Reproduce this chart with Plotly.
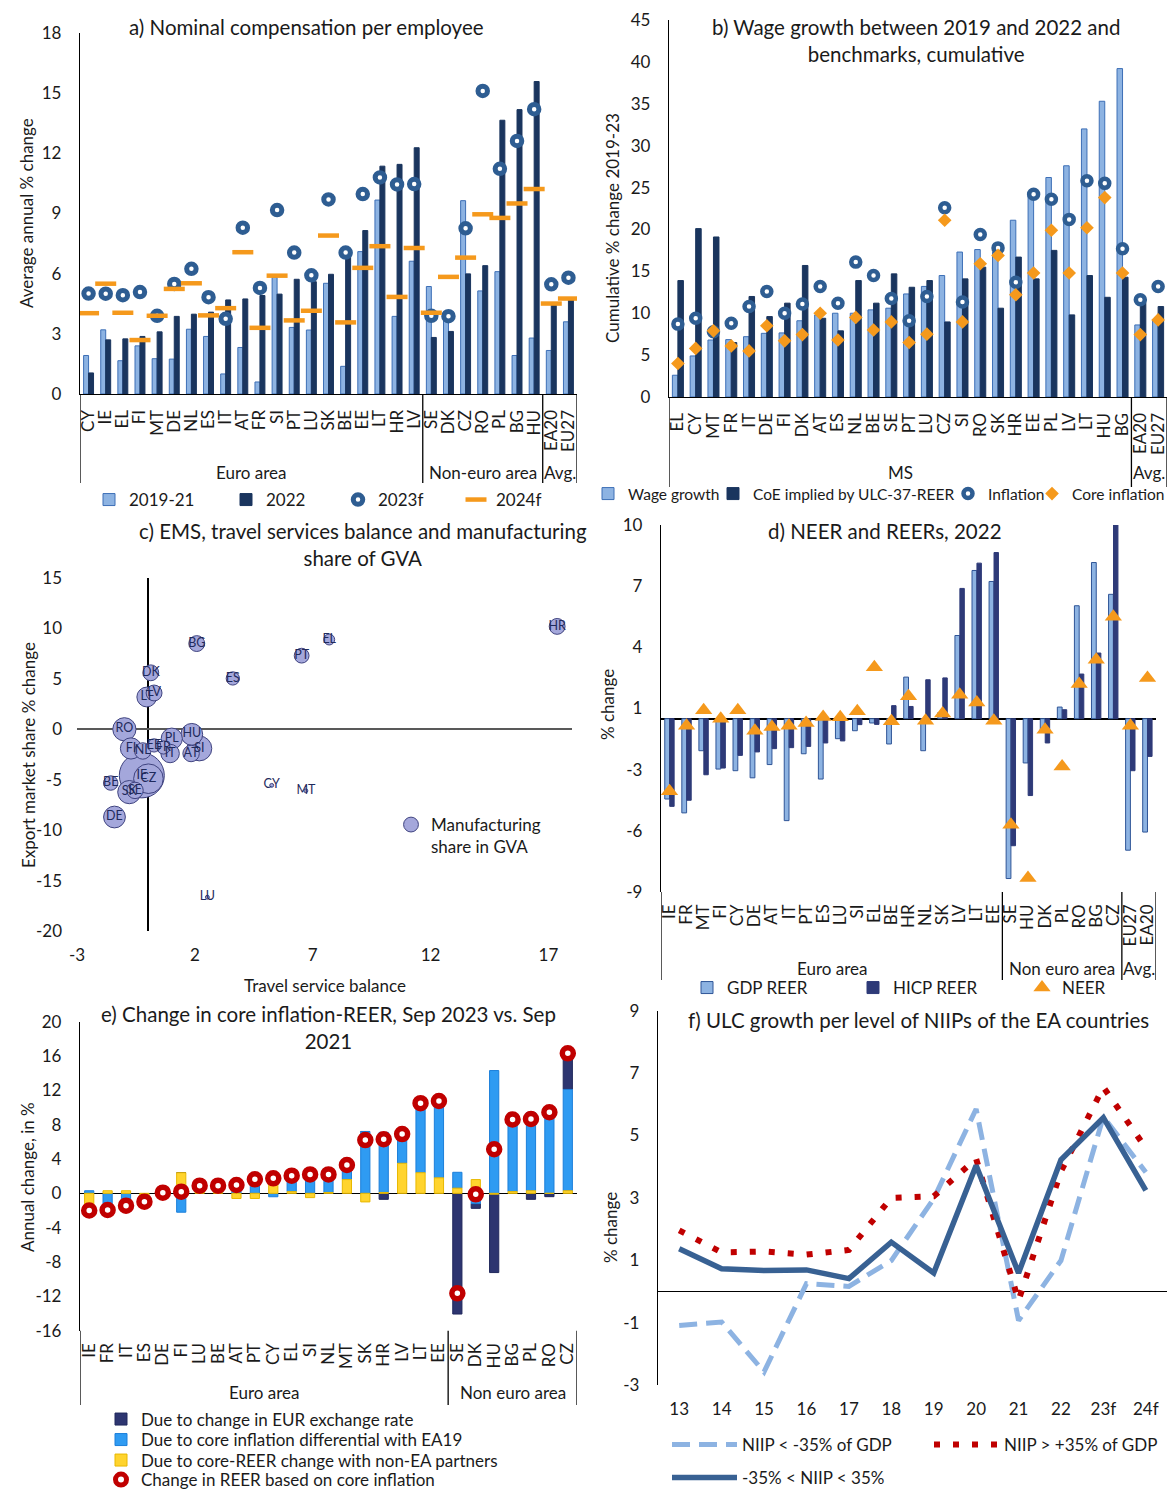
import plotly.graph_objects as go

W, H = 1173, 1490
FONT = "Lato"
INK = "#1a1a1a"

# ---------------- panel a data ----------------
a_cats = ["CY", "IE", "EL", "FI", "MT", "DE", "NL", "ES", "IT", "AT", "FR", "SI", "PT", "LU", "SK",
          "BE", "EE", "LT", "HR", "LV", "SE", "DK", "CZ", "RO", "PL", "BG", "HU", "EA20", "EU27"]
a_groups = ["Euro area", "Non-euro area", "Avg."]
a_group_sizes = [20, 7, 2]
a_2019_21 = [1.92, 3.2, 1.66, 2.4, 1.76, 1.74, 3.23, 2.87, 1.0, 2.32, 0.6, 5.82, 3.32, 3.19, 5.52,
             1.38, 7.1, 9.67, 3.87, 6.62, 5.36, 3.7, 9.64, 5.14, 6.1, 1.92, 2.79, 2.17, 3.6]
a_2022 = [1.05, 2.7, 2.75, 2.87, 3.1, 3.87, 3.98, 4.08, 4.69, 4.74, 4.91, 4.98, 5.72, 5.6, 5.97,
          6.85, 8.15, 11.36, 11.45, 12.28, 2.82, 3.12, 5.99, 6.4, 13.65, 14.18, 15.58, 4.45, 4.7]
a_2023f = [5.01, 5.0, 4.93, 5.08, 3.9, 5.49, 6.24, 4.83, 3.75, 8.29, 5.29, 9.17, 7.05, 5.92, 9.7,
           7.05, 9.97, 10.8, 10.45, 10.47, 3.9, 3.88, 8.26, 15.11, 11.23, 12.62, 14.2, 5.47, 5.8]
a_2024f = [4.03, 5.5, 4.05, 2.69, 3.9, 5.24, 5.52, 3.92, 4.28, 7.07, 3.3, 5.9, 3.67, 4.15, 7.9,
           3.57, 6.29, 7.37, 4.84, 7.28, 4.05, 5.84, 6.8, 8.96, 8.78, 9.5, 10.22, 4.51, 4.76]

# ---------------- panel b data ----------------
b_cats = ["EL", "CY", "MT", "FR", "IT", "DE", "FI", "DK", "AT", "ES", "NL", "BE", "SE", "PT",
          "LU", "CZ", "SI", "RO", "SK", "HR", "EE", "PL", "LV", "LT", "HU", "BG", "EA20", "EU27"]
b_groups = ["MS", "Avg."]
b_group_sizes = [26, 2]
b_wage = [2.6, 4.9, 6.8, 6.85, 7.2, 7.6, 7.65, 9.1, 9.8, 10.0, 10.0, 10.4, 10.6, 12.3,
          13.2, 14.5, 17.3, 17.6, 17.3, 21.1, 24.1, 26.2, 27.6, 32.0, 35.3, 39.2, 8.6, 9.2]
b_coe = [13.9, 20.1, 19.1, 6.5, 12.0, 9.6, 11.2, 15.7, 9.4, 7.9, 13.9, 11.2, 14.7, 13.1,
         13.9, 8.96, 14.1, 15.5, 10.6, 16.7, 14.1, 17.5, 9.8, 14.5, 11.9, 14.3, 11.3, 10.8]
b_infl = [8.7, 9.4, 7.8, 8.8, 10.8, 12.6, 10.0, 11.1, 13.2, 11.2, 16.1, 14.5, 11.75, 9.1,
          12.0, 22.6, 11.35, 19.4, 17.8, 13.7, 24.2, 23.6, 21.2, 25.8, 25.5, 17.7, 11.6, 13.2]
b_core = [4.0, 5.8, 7.9, 6.1, 5.5, 8.5, 6.7, 7.45, 10.0, 6.8, 9.5, 8.0, 8.96, 6.5,
          7.5, 21.1, 8.96, 15.9, 16.9, 12.2, 14.8, 19.9, 14.8, 20.2, 23.8, 14.8, 7.45, 9.2]

# ---------------- panel c data ----------------
c_countries = ["IE", "CZ", "SI", "RO", "SK", "HU", "DE", "FI", "PL", "LT", "IT", "AT", "NL", "SE",
               "BG", "DK", "LV", "HR", "PT", "BE", "FR", "EE", "ES", "EL", "CY", "MT", "LU"]
c_travel = [-0.25, 0.03, 2.19, -0.99, -0.78, 1.87, -1.41, -0.71, 1.02, -0.04, 0.95, 1.84, -0.21, -0.54,
            2.08, 0.13, 0.27, 17.37, 6.53, -1.57, 0.67, 0.27, 3.61, 7.70, 5.26, 6.71, 2.53]
c_ems = [-4.57, -4.9, -1.9, 0.0, -6.23, -0.5, -8.7, -1.9, -0.93, 3.2, -2.4, -2.4, -2.15, -6.06,
         8.5, 5.6, 3.6, 10.2, 7.3, -5.33, -1.8, -1.6, 5.04, 8.9, -5.56, -6.1, -16.65]
c_manuf = [38, 25, 21, 19.6, 19.6, 18.4, 18.4, 17.9, 17.9, 16.7, 15.6, 13.9, 13.9, 13.9,
           13.4, 13.4, 13.4, 13.4, 12.5, 12.2, 11.2, 11.2, 11.2, 9.2, 3.3, 3.3, 3.3]
c_xticks = [-3, 2, 7, 12, 17]
c_yticks = [-20, -15, -10, -5, 0, 5, 10, 15]

# ---------------- panel d data ----------------
d_cats = ["IE", "FR", "MT", "FI", "CY", "DE", "AT", "IT", "PT", "ES", "LU", "SI", "EL", "BE", "HR",
          "NL", "SK", "LV", "LT", "EE", "SE", "HU", "DK", "PL", "RO", "BG", "CZ", "EU27", "EA20"]
d_groups = ["Euro area", "Non euro area", "Avg."]
d_group_sizes = [20, 7, 2]
d_gdp = [-3.94, -4.62, -1.57, -2.47, -2.55, -2.9, -2.25, -5.0, -1.72, -2.96, -0.98, -0.59, -0.21, -1.24, 2.04,
         -1.57, 0.3, 4.08, 7.27, 6.73, -7.84, -2.17, -0.62, 0.57, 5.54, 7.66, 6.1, -6.45, -5.56]
d_hicp = [-4.3, -4.0, -2.75, -2.42, -1.8, -1.63, -1.47, -1.42, -1.36, -1.19, -1.09, -0.29, -0.28, 0.64, 0.6,
          1.91, 2.0, 6.39, 7.63, 8.15, -6.23, -3.77, -1.19, 0.44, 2.19, 3.22, 9.62, -2.55, -1.85]
d_neer = [-3.56, -0.34, 0.42, 0.0, 0.42, -0.59, -0.41, -0.35, -0.21, 0.08, 0.07, 0.36, 2.52, -0.13, 1.1,
          -0.1, 0.25, 1.18, 0.8, -0.1, -5.2, -7.81, -0.54, -2.34, 1.7, 2.89, 5.0, -0.34, 2.0]
d_tickvals = [-8.5, -5.5, -2.5, 0.5, 3.5, 6.5, 9.5]
d_ticktext = ["-9", "-6", "-3", "1", "4", "7", "10"]

# ---------------- panel e data ----------------
e_cats = ["IE", "FR", "IT", "ES", "DE", "FI", "LU", "BE", "AT", "PT", "CY", "EL", "SI", "NL", "MT",
          "SK", "HR", "LV", "LT", "EE", "SE", "DK", "HU", "BG", "PL", "RO", "CZ"]
e_groups = ["Euro area", "Non euro area"]
e_group_sizes = [20, 7]
e_eur = [-0.4, -0.2, -0.8, -0.2, 0, 0, 0, 0, 0, 0, 0, 0, 0, 0, 0,
         0, -0.7, 0, 0, 0, -14.06, -0.55, -9.13, 0, -0.7, -0.39, 4.2]
e_core = [0.3, -1.9, -0.9, -0.5, -0.1, -2.2, 0.7, 0.8, 1.6, 2.2, -0.4, 1.9, 2.7, 2.1, 1.7,
          7.2, 7.0, 3.4, 8.1, 9.0, 1.85, -1.2, 14.3, 8.4, 9.1, 9.8, 11.8]
e_nonea = [-1.8, 0.3, 0.3, -0.3, 0.2, 2.4, 0.2, 0.1, -0.6, -0.6, 2.1, 0.2, -0.5, 0.1, 1.6,
           -1.0, 0.1, 3.5, 2.4, 1.8, 0.6, 1.6, -0.1, 0.2, 0.3, 0.0, 0.3]
e_total = [-2.0, -1.94, -1.44, -0.97, 0.08, 0.19, 0.89, 0.89, 0.97, 1.63, 1.75, 2.06, 2.2, 2.2, 3.3,
           6.2, 6.3, 6.9, 10.5, 10.75, -11.65, -0.12, 5.13, 8.6, 8.66, 9.44, 16.3]
e_yticks = [-16, -12, -8, -4, 0, 4, 8, 12, 16, 20]

# ---------------- panel f data ----------------
f_years = ["13", "14", "15", "16", "17", "18", "19", "20", "21", "22", "23f", "24f"]
f_low = [-1.09, -0.98, -2.58, 0.25, 0.16, 0.99, 2.97, 5.85, -0.93, 0.99, 5.6, 3.82]
f_high = [1.96, 1.25, 1.28, 1.18, 1.33, 3.0, 3.05, 4.25, -0.29, 3.85, 6.55, 4.6]
f_mid = [1.37, 0.73, 0.67, 0.69, 0.41, 1.58, 0.59, 4.04, 0.59, 4.22, 5.57, 3.24]
f_yticks = [-3, -1, 1, 3, 5, 7, 9]


def fx(x):
    return x / W


def fy(y):
    return 1 - y / H


def lab(v):
    return str(v)


LIGHT = "#8DB3E2"
LIGHT_EDGE = "#3D6FB6"
NAVY = "#1A355E"
RING = "#2E5D92"
ORANGE = "#F5991C"
INDIGO = "#2E3A78"
E_DARK = "#2D3570"
E_BLUE = "#2F9BF2"
E_YEL = "#FFD42E"
RED = "#C00000"
BUB = "#A4A7DB"

fig = go.Figure()

# ---------------- panel a ----------------
fig.add_bar(x=a_cats, y=a_2019_21, width=0.29, offset=-0.29, name="2019-21",
            marker=dict(color=LIGHT, line=dict(color=LIGHT_EDGE, width=1)),
            xaxis="x", yaxis="y", legend="legend")
fig.add_bar(x=a_cats, y=a_2022, width=0.29, offset=0.0, name="2022",
            marker=dict(color=NAVY, line=dict(color=NAVY, width=1)),
            xaxis="x", yaxis="y", legend="legend2")
fig.add_scatter(x=a_cats, y=a_2023f, mode="markers", name="2023f",
                marker=dict(symbol="circle", size=9.5, color="white", line=dict(color=RING, width=5)),
                xaxis="x", yaxis="y", legend="legend3")
fig.add_scatter(x=a_cats, y=a_2024f, mode="markers", name="2024f",
                marker=dict(symbol="line-ew", size=15, line=dict(color=ORANGE, width=4.5)),
                xaxis="x", yaxis="y", legend="legend4")

# ---------------- panel b ----------------
fig.add_bar(x=b_cats, y=b_wage, width=0.31, offset=-0.31, name="Wage growth",
            marker=dict(color=LIGHT, line=dict(color=LIGHT_EDGE, width=1)),
            xaxis="x2", yaxis="y2", legend="legend5")
fig.add_bar(x=b_cats, y=b_coe, width=0.31, offset=0.0, name="CoE implied by ULC-37-REER",
            marker=dict(color=NAVY, line=dict(color=NAVY, width=1)),
            xaxis="x2", yaxis="y2", legend="legend6")
fig.add_scatter(x=b_cats, y=b_infl, mode="markers", name="Inflation",
                marker=dict(symbol="circle", size=9, color="white", line=dict(color=RING, width=4.5)),
                xaxis="x2", yaxis="y2", legend="legend7")
fig.add_scatter(x=b_cats, y=b_core, mode="markers", name="Core inflation",
                marker=dict(symbol="diamond", size=10.5, color=ORANGE, line=dict(width=0)),
                xaxis="x2", yaxis="y2", legend="legend8")

# ---------------- panel c ----------------
order = sorted(range(len(c_countries)), key=lambda i: -c_manuf[i])
max_diam = 45.0
fig.add_scatter(x=[c_travel[i] for i in order], y=[c_ems[i] for i in order],
                text=[c_countries[i] for i in order], mode="markers+text",
                textposition="middle center", textfont=dict(family=FONT, size=12.5, color="#1F2A5C"),
                name="Manufacturing<br>share in GVA",
                marker=dict(size=[c_manuf[i] for i in order], sizemode="diameter",
                            sizeref=max(c_manuf) / max_diam, color=BUB, opacity=1,
                            line=dict(color="#3F437F", width=1)),
                xaxis="x3", yaxis="y3", legend="legend9")

# ---------------- panel d ----------------
fig.add_bar(x=d_cats, y=d_gdp, width=0.28, offset=-0.28, name="GDP REER",
            marker=dict(color=LIGHT, line=dict(color="#2F5597", width=1)),
            xaxis="x4", yaxis="y4", legend="legend10")
fig.add_bar(x=d_cats, y=d_hicp, width=0.26, offset=0.01, name="HICP REER",
            marker=dict(color=INDIGO, line=dict(color=INDIGO, width=1)),
            xaxis="x4", yaxis="y4", legend="legend11")
fig.add_scatter(x=d_cats, y=d_neer, mode="markers", name="NEER",
                marker=dict(symbol="triangle-up", size=15, color=ORANGE, line=dict(width=0)),
                xaxis="x4", yaxis="y4", legend="legend12")

# ---------------- panel e (stacked: non-EA, core diff, EUR) ----------------
pos_acc = [0.0] * len(e_cats)
neg_acc = [0.0] * len(e_cats)
bases = {}
for key, vals in (("nonea", e_nonea), ("core", e_core), ("eur", e_eur)):
    b = []
    for i, v in enumerate(vals):
        if v >= 0:
            b.append(pos_acc[i])
            pos_acc[i] += v
        else:
            b.append(neg_acc[i])
            neg_acc[i] += v
    bases[key] = b

e_series = [
    ("Due to change in EUR exchange rate", e_eur, bases["eur"], E_DARK, "#20285C", "legend13"),
    ("Due to core inflation differential with EA19", e_core, bases["core"], E_BLUE, "#1C7FDA", "legend14"),
    ("Due to core-REER change with non-EA partners", e_nonea, bases["nonea"], E_YEL, "#E8B800", "legend15"),
]
for name, vals, base, col, edge, lg in e_series:
    fig.add_bar(x=e_cats, y=vals, base=base, width=0.5, offset=-0.25, name=name,
                marker=dict(color=col, line=dict(color=edge, width=1)),
                xaxis="x5", yaxis="y5", legend=lg)
fig.add_scatter(x=e_cats, y=e_total, mode="markers", name="Change in REER based on core inflation",
                marker=dict(symbol="circle", size=11, color="white", line=dict(color=RED, width=5.5)),
                xaxis="x5", yaxis="y5", legend="legend16")

# ---------------- panel f ----------------
fig.add_scatter(x=f_years, y=f_low, mode="lines", name="NIIP < -35% of GDP",
                line=dict(color="#8DB3E2", width=5, dash="18px,9px"),
                xaxis="x6", yaxis="y6", legend="legend17")
fig.add_scatter(x=f_years, y=f_high, mode="lines", name="NIIP > +35% of GDP",
                line=dict(color=RED, width=6, dash="6px,13px"),
                xaxis="x6", yaxis="y6", legend="legend18")
fig.add_scatter(x=f_years, y=f_mid, mode="lines", name="-35% < NIIP < 35%",
                line=dict(color="#386193", width=5.5),
                xaxis="x6", yaxis="y6", legend="legend19")

# ---------------- axes ----------------
FS = 17
tf = dict(family=FONT, size=FS, color=INK)
tf_small = dict(family=FONT, size=15.5, color=INK)


def cat_x(dom, anchor, cats):
    return dict(domain=[fx(dom[0]), fx(dom[1])], anchor=anchor, type="category",
                range=[-0.5, len(cats) - 0.5], tickangle=-90, tickfont=tf, ticks="",
                tickmode="array", tickvals=cats, ticktext=cats,
                showgrid=False, zeroline=False, ticklabelstandoff=8, fixedrange=True)


def val_y(dom, anchor, rng, ticks_, **kw):
    d = dict(domain=[fy(dom[1]), fy(dom[0])], anchor=anchor, range=rng, tickfont=tf,
             tickmode="array", tickvals=ticks_, ticktext=[lab(v) for v in ticks_],
             ticks="", showgrid=False, showline=True, linecolor="black", linewidth=1.3,
             ticklabelstandoff=14, fixedrange=True)
    d.update(kw)
    return d


a_yticks = [0, 3, 6, 9, 12, 15, 18]
b_yticks = [0, 5, 10, 15, 20, 25, 30, 35, 40, 45]

layout_axes = dict(
    xaxis=dict(cat_x((80, 577), "y", a_cats), showline=True, linecolor="black", linewidth=1.3),
    yaxis=val_y((33, 394), "x", [0, 18], a_yticks, zeroline=False),
    xaxis2=dict(cat_x((669, 1167), "y2", b_cats), showline=True, linecolor="black", linewidth=1.3),
    yaxis2=val_y((20, 397), "x2", [0, 45], b_yticks, zeroline=False),
    xaxis3=dict(domain=[fx(77), fx(572)], anchor="y3", range=[-3, 18],
                tickmode="array", tickvals=c_xticks, ticktext=[lab(v) for v in c_xticks],
                tickfont=tf, ticks="", showgrid=False, showline=False, zeroline=True,
                zerolinecolor="black", zerolinewidth=1.5, ticklabelstandoff=12, fixedrange=True),
    yaxis3=dict(domain=[fy(931), fy(578)], anchor="x3", range=[-20, 15],
                tickmode="array", tickvals=c_yticks, ticktext=[lab(v) for v in c_yticks],
                tickfont=tf, ticks="", showgrid=False, showline=False, zeroline=True,
                zerolinecolor="#595959", zerolinewidth=2, ticklabelstandoff=14, fixedrange=True),
    xaxis4=cat_x((661, 1156), "y4", d_cats),
    yaxis4=dict(val_y((525, 892), "x4", [-8.5, 9.5], d_tickvals),
                ticktext=d_ticktext, zeroline=True, zerolinecolor="black", zerolinewidth=1.5),
    xaxis5=cat_x((80, 577), "y5", e_cats),
    yaxis5=val_y((1021.6, 1330.7), "x5", [-16, 20], e_yticks,
                 zeroline=True, zerolinecolor="black", zerolinewidth=1.3),
    xaxis6=dict(domain=[fx(658), fx(1167)], anchor="y6", type="category", range=[-0.5, 11.5],
                tickfont=tf, ticks="", showgrid=False, showline=False, zeroline=False,
                ticklabelstandoff=12, fixedrange=True),
    yaxis6=val_y((1010.7, 1385), "x6", [-3, 9], f_yticks,
                 zeroline=True, zerolinecolor="black", zerolinewidth=1.3),
)

# ---------------- shapes & group labels ----------------
shapes = []
annotations = []


def group_frame(xref, sizes, names, y_top, y_bot, y_lab):
    shapes.append(dict(type="line", xref=xref, yref="paper", x0=-0.5, x1=-0.5,
                       y0=fy(y_top), y1=fy(y_bot), line=dict(color="black", width=1.3)))
    start = 0
    for s, nm in zip(sizes, names):
        end = start + s
        shapes.append(dict(type="line", xref=xref, yref="paper", x0=end - 0.5, x1=end - 0.5,
                           y0=fy(y_top), y1=fy(y_bot), line=dict(color="black", width=1.3)))
        annotations.append(dict(xref=xref, yref="paper", x=start + (s - 1) / 2, y=fy(y_lab),
                                text=nm, showarrow=False, font=tf, xanchor="center", yanchor="middle"))
        start = end


group_frame("x", a_group_sizes, a_groups, 394, 483, 472)
group_frame("x2", b_group_sizes, b_groups, 397, 487, 472)
group_frame("x4", d_group_sizes, d_groups, 892, 980, 969)
group_frame("x5", e_group_sizes, e_groups, 1330.7, 1405, 1392)


def note(x, y, text, size=FS, angle=0, align="center"):
    annotations.append(dict(xref="paper", yref="paper", x=fx(x), y=fy(y), text=text,
                            showarrow=False, textangle=angle, align=align,
                            font=dict(family=FONT, size=size, color=INK),
                            xanchor="center", yanchor="middle"))


TS = 20.5
note(306, 27, "a) Nominal compensation per employee", TS)
note(916, 41, "b) Wage growth between 2019 and 2022 and<br>benchmarks, cumulative", TS)
note(363, 544, "c) EMS, travel services balance and manufacturing<br>share of GVA", TS)
note(885, 531, "d) NEER and REERs, 2022", TS)
note(328, 1027, "e) Change in core inflation-REER, Sep 2023 vs. Sep<br>2021", TS)
note(918, 1020, "f) ULC growth per level of NIIPs of the EA countries", TS)

note(27, 213, "Average annual % change", FS, -90)
note(612, 228, "Cumulative % change 2019-23", FS, -90)
note(28, 755, "Export market share % change", FS, -90)
note(325, 985, "Travel service balance", FS)
note(607, 705, "% change", FS, -90)
note(27, 1177, "Annual change, in %", FS, -90)
note(610, 1228, "% change", FS, -90)

# ---------------- legends ----------------


def leg(sym_x, y, shift=22, **kw):
    d = dict(x=fx(sym_x - shift), y=fy(y), xanchor="left", yanchor="middle", orientation="h",
             bgcolor="rgba(0,0,0,0)", borderwidth=0, font=tf, itemwidth=30,
             traceorder="normal", itemclick=False, itemdoubleclick=False)
    d.update(kw)
    return d


legends = dict(
    legend=leg(111, 500),
    legend2=leg(248, 500),
    legend3=leg(360, 500),
    legend4=leg(478, 500),
    legend5=leg(610, 494, font=tf_small),
    legend6=leg(735, 494, font=tf_small),
    legend7=leg(970, 494, font=tf_small),
    legend8=leg(1054, 494, font=tf_small),
    legend9=leg(413, 807, yanchor="top", valign="top"),
    legend10=leg(709, 988),
    legend11=leg(875, 988),
    legend12=leg(1044, 988),
    legend13=leg(123, 1419.5),
    legend14=leg(123, 1440),
    legend15=leg(123, 1460.5),
    legend16=leg(123, 1480),
    legend17=leg(667, 1445, shift=0, itemwidth=65),
    legend18=leg(929, 1445, shift=0, itemwidth=65),
    legend19=leg(667, 1478, shift=0, itemwidth=65),
)

fig.update_layout(
    width=W, height=H, autosize=False,
    margin=dict(l=0, r=0, t=0, b=0, autoexpand=False),
    paper_bgcolor="white", plot_bgcolor="white",
    font=dict(family=FONT, size=FS, color=INK),
    barmode="overlay", showlegend=True,
    shapes=shapes, annotations=annotations,
    **layout_axes, **legends,
)

fig.write_html("out.html", config={"displayModeBar": False},
               post_script="document.body.style.margin='0px';")
